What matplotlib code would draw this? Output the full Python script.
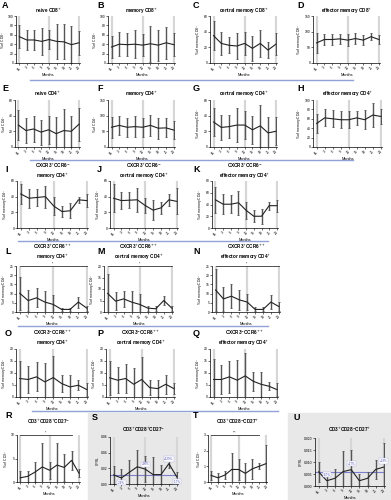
import numpy as np
import matplotlib.pyplot as plt

plt.rcParams['font.family'] = ['Liberation Sans', 'DejaVu Sans']

months = ['BL', '3', '6', '9', '12', '15', '18', '21', '24']

# mean and SD per time point
a_mean = [56, 49, 49, 46, 50, 46, 45, 39, 43]
a_sd = [25, 22, 22, 28, 21, 37, 37, 40, 26]
b_mean = [34, 40, 39, 40, 38, 41, 38, 43, 39]
b_sd = [23, 25, 25, 30, 23, 38, 33, 34, 25]
c_mean = [35, 25, 22.6, 21.7, 25, 18.7, 25, 16.5, 24]
c_sd = [19, 15, 10.4, 16.3, 15, 16.3, 17, 10.5, 14]
d_mean = [64, 75, 75, 77, 73, 78, 73, 84, 75]
d_sd = [33, 19, 16, 17, 18, 18, 16, 12, 14]
e_mean = [28, 21, 23, 19, 22, 17, 21, 20, 29]
e_sd = [19, 16, 17, 16, 18, 21, 28, 20, 21]
f_mean = [63, 69, 63, 65, 63, 69, 60, 61, 54]
f_sd = [33, 30, 30, 33, 30, 34, 33, 30, 30]
g_mean = [32, 25, 26, 28, 28, 22, 27, 18, 20]
g_sd = [18, 16, 15, 22, 18, 18, 27, 20, 18]
h_mean = [50, 62, 60, 58, 58, 62, 58, 68, 65]
h_sd = [20, 18, 18, 18, 18, 15, 20, 25, 15]
i_mean = [43.5, 38, 39, 40, 28, 21, 22, 36, 35]
i_sd = [12.3, 12, 11, 14, 11, 7.5, 9.5, 4, 8.5]
j_mean = [38, 35, 35.5, 36, 28.7, 22.8, 25.7, 36, 34]
j_sd = [18, 10.5, 10, 15.5, 10, 12.8, 7.5, 7.6, 16.5]
k_mean = [48, 40.5, 40.5, 43, 30, 20, 20, 38, 38]
k_sd = [22.5, 17, 15, 20.5, 14.5, 10, 13, 7, 10]
l_mean = [10.2, 6.2, 7.7, 5.4, 4.1, 1.4, 1.4, 5.4, 2.1]
l_sd = [9, 5.5, 5.2, 6.2, 4.9, 0.8, 0.8, 3, 1.4]
m_mean = [8.1, 4.7, 5.7, 4.3, 3.3, 1.7, 1.4, 5, 1.7]
m_sd = [8.5, 4, 3.6, 5, 4.6, 1.1, 1, 2.1, 1.1]
n_mean = [12, 7.1, 8.6, 6.6, 5.4, 1.4, 1.4, 5.4, 3]
n_sd = [11.5, 6.3, 6.5, 5.6, 4.4, 1.1, 1.1, 4, 2.3]
o_mean = [7.7, 7.3, 8.4, 6.3, 8.1, 5.6, 4.2, 4.9, 3.1]
o_sd = [7.5, 5.6, 6.1, 7.7, 8.9, 3.5, 4.9, 2.1, 2.8]
p_mean = [8, 7, 7.7, 5.3, 7.3, 3.9, 3.5, 5.3, 3.5]
p_sd = [7.2, 5.5, 6.2, 6.6, 9.2, 3.1, 3.5, 4, 2.3]
q_mean = [7.3, 7.3, 8.4, 7, 8.8, 6.6, 5.3, 4.5, 3.1]
q_sd = [8.4, 6, 6.6, 8.4, 9.4, 4, 5.2, 1.6, 2.8]
r_mean = [0.9, 1.2, 2.1, 3.2, 2.5, 3.6, 3.1, 4.6, 1.9]
r_sd = [1.4, 1.1, 2.2, 5.2, 1.8, 4.8, 2.9, 2, 0.9]
s_mean = [0.0116, 0.0077, 0.015, 0.022, 0.019, 0.012, 0.012, 0.026, 0.009]
s_sd = [0.012, 0.012, 0.016, 0.022, 0.017, 0.022, 0.012, 0.006, 0.006]
t_mean = [0.42, 0.27, 0.44, 0.8, 0.8, 0.55, 0.84, 1.0, 1.17]
t_sd = [0.28, 0.28, 0.28, 1.05, 0.7, 0.65, 0.65, 0.2, 1.2]
u_mean = [0.0059, 0.0022, 0.0032, 0.006, 0.0068, 0.0022, 0.0032, 0.0069, 0.0079]
u_sd = [0.0043, 0.0036, 0.0038, 0.0085, 0.0084, 0.003, 0.0028, 0.0041, 0.01]

s_base = 0.0116
s_pct = {1: '-29%', 4: '+90%', 7: '+129%', 8: '-17%'}
u_base = 0.006
u_pct = {1: '-67%', 4: '+17%', 8: '+33%'}

W, H = 391, 500
fig = plt.figure(figsize=(W / 100, H / 100), dpi=100)


def box(x0, y0, x1, y1):
    return [x0 / W, 1 - y1 / H, (x1 - x0) / W, (y1 - y0) / H]


def ftext(x, y, s, **kw):
    fig.text(x / W, 1 - y / H, s, **kw)


def panel(rect, mean, sd, ymax, yticks, ylabel, title, title_y, letter, lx, ly,
          yfmt=None):
    ax = fig.add_axes(box(*rect))
    ax.set_zorder(2)
    x = np.arange(len(months))
    for g in (0, 4, 8):
        ax.axvline(g, color='#d6d6d6', lw=1.6, zorder=0)
    ax.errorbar(x, mean, yerr=sd, fmt='none', ecolor='#555555',
                elinewidth=1.0, capsize=0.8, capthick=0.6, zorder=2)
    ax.plot(x, mean, color='#222222', lw=0.8, zorder=3)
    ax.set_xlim(-0.45, 8.15)
    ax.set_ylim(0, ymax)
    ax.set_yticks(yticks)
    if yfmt:
        ax.set_yticklabels([yfmt.format(v) for v in yticks])
    ax.set_xticks(x)
    ax.set_xticklabels(months, rotation=45)
    for sp in ('top', 'right'):
        ax.spines[sp].set_visible(False)
    for sp in ('left', 'bottom'):
        ax.spines[sp].set_linewidth(0.5)
    ax.tick_params(length=1.2, width=0.4, pad=0.6, labelsize=2.4)
    ax.set_xlabel('Months', fontsize=2.8, labelpad=1)
    ax.set_ylabel(ylabel, fontsize=2.4, labelpad=0.6)
    ax.patch.set_alpha(0)
    cx = (rect[0] + rect[2]) / 2
    ftext(cx, title_y, title, ha='center', va='center', fontsize=3.3,
          fontweight='bold', linespacing=1.25)
    ftext(lx, ly, letter, ha='left', va='center', fontsize=6.5,
          fontweight='bold')
    return ax


def bracket(ax, x0, x1, label):
    ymax = ax.get_ylim()[1]
    ax.plot([x0, x1], [ymax, ymax], color='#333333', lw=0.6, clip_on=False)
    ax.text((x0 + x1) / 2, ymax, label, ha='center', va='bottom',
            fontsize=2.2, clip_on=False)


# grey backgrounds of S and U
for gx0, gx1 in ((88, 190), (288, 391)):
    fig.patches.append(plt.Rectangle((gx0 / W, 0), (gx1 - gx0) / W, 87 / H,
                                     transform=fig.transFigure,
                                     color='#e8e8e8', zorder=-5))

# blue separators
for sy, sx0, sx1 in ((80, 30, 353), (160, 30, 353), (241, 18, 268),
                     (326, 18, 268), (411, 32, 278)):
    fig.add_artist(plt.Line2D([sx0 / W, sx1 / W], [1 - sy / H, 1 - sy / H],
                              transform=fig.transFigure, color='#8fa3d8',
                              lw=1.0))

cd8 = 'CD8$^{+}$'
cd4 = 'CD4$^{+}$'
mem4 = '% of memory CD4$^{+}$'

panel((16, 16, 80, 63), a_mean, a_sd, 100, [0, 20, 40, 60, 80, 100],
      '% of ' + cd8, 'naive ' + cd8, 11, 'A', 2, 5)
panel((108, 16, 175, 63), b_mean, b_sd, 100, [0, 20, 40, 60, 80, 100],
      '% of ' + cd8, 'memory ' + cd8, 11, 'B', 97, 5)
panel((210, 16, 277, 63), c_mean, c_sd, 60, [0, 20, 40, 60],
      '% of memory ' + cd8, 'central memory ' + cd8, 11, 'C', 193, 5)
panel((313, 16, 380, 63), d_mean, d_sd, 150, [0, 50, 100, 150],
      '% of memory ' + cd8, 'effector memory ' + cd8, 11, 'D', 297, 5)

panel((15, 100, 80, 147), e_mean, e_sd, 60, [0, 20, 40, 60],
      '% of ' + cd4, 'naive ' + cd4, 94, 'E', 2, 89)
panel((108, 100, 175, 147), f_mean, f_sd, 150, [0, 50, 100, 150],
      '% of ' + cd4, 'memory ' + cd4, 94, 'F', 97, 89)
panel((210, 100, 277, 147), g_mean, g_sd, 60, [0, 20, 40, 60],
      '% of memory ' + cd4, 'central memory ' + cd4, 94, 'G', 193, 89)
panel((313, 100, 382, 147), h_mean, h_sd, 100, [0, 20, 40, 60, 80, 100],
      '% of memory ' + cd4, 'effector memory ' + cd4, 94, 'H', 297, 89)

panel((17, 181, 88, 228), i_mean, i_sd, 60, [0, 20, 40, 60], mem4,
      'CXCR3$^{+}$CCR6$^{-}$\nmemory ' + cd4, 171, 'I', 5, 169)
panel((110, 181, 178, 228), j_mean, j_sd, 60, [0, 20, 40, 60], mem4,
      'CXCR3$^{+}$CCR6$^{-}$\ncentral memory ' + cd4, 171, 'J', 97, 169)
panel((212, 181, 278, 228), k_mean, k_sd, 80, [0, 20, 40, 60, 80], mem4,
      'CXCR3$^{+}$CCR6$^{-}$\neffector memory ' + cd4, 171, 'K', 193, 169)

ax = panel((16, 266, 88, 312), l_mean, l_sd, 25, [0, 5, 10, 15, 20, 25], mem4,
           'CXCR3$^{+}$CCR6$^{++}$\nmemory ' + cd4, 252, 'L', 5, 251)
bracket(ax, 0, 8, '**')
ax = panel((104, 266, 173, 312), m_mean, m_sd, 20, [0, 5, 10, 15, 20], mem4,
           'CXCR3$^{+}$CCR6$^{++}$\ncentral memory ' + cd4, 252, 'M', 97, 251)
bracket(ax, 0, 8, '*')
ax = panel((212, 266, 280, 312), n_mean, n_sd, 25, [0, 5, 10, 15, 20, 25],
           mem4, 'CXCR3$^{+}$CCR6$^{++}$\neffector memory ' + cd4, 252, 'N',
           193, 251)
bracket(ax, 0, 8, '**')

panel((16, 349, 88, 397), o_mean, o_sd, 20, [0, 5, 10, 15, 20], mem4,
      'CXCR3$^{-}$CCR6$^{++}$\nmemory ' + cd4, 338, 'O', 5, 334)
panel((106, 349, 175, 397), p_mean, p_sd, 20, [0, 5, 10, 15, 20], mem4,
      'CXCR3$^{-}$CCR6$^{++}$\ncentral memory ' + cd4, 338, 'P', 97, 334)
panel((210, 349, 278, 397), q_mean, q_sd, 20, [0, 5, 10, 15, 20], mem4,
      'CXCR3$^{-}$CCR6$^{++}$\neffector memory ' + cd4, 338, 'Q', 193, 334)

ax = panel((17, 435, 80, 482), r_mean, r_sd, 10, [0, 5, 10],
           '% of CD3$^{+}$', 'CD3$^{+}$CD28$^{+}$CD27$^{-}$', 422, 'R', 5, 416)
bracket(ax, 0, 7, '*')
ax = panel((110, 437, 178, 484), s_mean, s_sd, 0.06, [0, 0.02, 0.04, 0.06],
           'CPRL', 'CD3$^{+}$CD28$^{+}$CD27$^{-}$', 430, 'S', 92, 417,
           yfmt='{:.2f}')
ax.axhline(s_base, color='#7b7fd0', lw=0.8, zorder=1)
for k, lab in s_pct.items():
    off = 0.006 if lab.startswith('+') else -0.006
    ax.text(k, s_mean[k] + off, lab, ha='center', va='center', fontsize=2.2,
            color='#4b4fb0', zorder=5,
            bbox=dict(boxstyle='square,pad=0.2', fc='white', ec='#b0b0e0',
                      lw=0.3))
ax = panel((208, 435, 267, 482), t_mean, t_sd, 3, [0, 1, 2, 3],
           '% of CD3$^{+}$', 'CD3$^{+}$CD28$^{-}$CD27$^{+}$', 422, 'T', 193,
           416)
bracket(ax, 0, 7, '***')
ax = panel((315, 438, 385, 486), u_mean, u_sd, 0.02,
           [0, 0.005, 0.010, 0.015, 0.020], 'CPRL',
           'CD3$^{+}$CD28$^{-}$CD27$^{+}$', 430, 'U', 293, 417, yfmt='{:.3f}')
ax.axhline(u_base, color='#7b7fd0', lw=0.8, zorder=1)
for k, lab in u_pct.items():
    ax.text(k, u_mean[k] + 0.0025, lab, ha='center', va='center',
            fontsize=2.2, color='#4b4fb0', zorder=5,
            bbox=dict(boxstyle='square,pad=0.2', fc='white', ec='#b0b0e0',
                      lw=0.3))

fig.savefig('out.png', dpi=100)
